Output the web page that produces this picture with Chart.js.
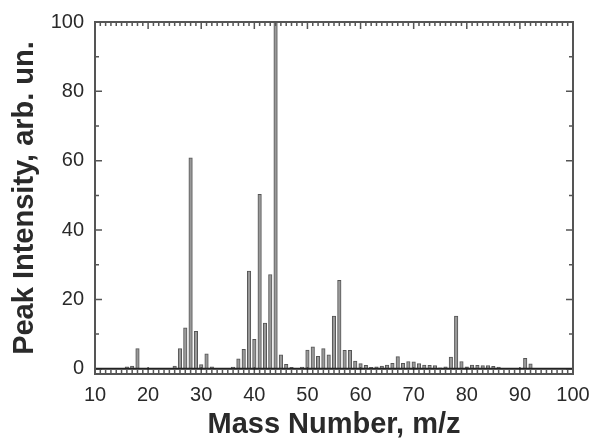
<!DOCTYPE html>
<html>
<head>
<meta charset="utf-8">
<script src="https://cdn.jsdelivr.net/npm/chart.js@4.4.1/dist/chart.umd.min.js"></script>
<style>
  html, body { margin: 0; padding: 0; background: #fff; }
  #spectrum { display: block; }
</style>
</head>
<body>
<canvas id="spectrum" width="590" height="439"></canvas>
<script>
// mass spectrum: m/z and relative peak height (base peak = 100)
const massNumbers = [
  16, 17, 18, 25, 26, 27, 28, 29, 30, 31, 32,
  36, 37, 38, 39, 40, 41, 42, 43, 44, 45, 46, 47,
  49, 50, 51, 52, 53, 54, 55, 56, 57, 58, 59, 60, 61, 62, 63, 64,
  65, 66, 67, 68, 69, 70, 71, 72, 73, 74, 75, 76, 77, 78, 79, 80,
  81, 82, 83, 84, 85, 86, 91, 92
];
const intensities = [
  0.6, 0.8, 5.8, 0.8, 5.8, 11.8, 60.8, 10.8, 1.2, 4.3, 0.6,
  0.5, 2.9, 5.6, 28.2, 8.5, 50.3, 13.2, 27.2, 100, 4.0, 1.3, 0.4,
  0.5, 5.4, 6.3, 3.6, 5.8, 4.0, 15.2, 25.5, 5.3, 5.3, 2.2, 1.5, 1.0, 0.4, 0.6, 0.8,
  1.1, 1.6, 3.5, 1.6, 2.1, 2.0, 1.5, 1.1, 1.0, 0.9, 0.3, 0.6, 3.4, 15.2, 2.1, 0.6,
  1.1, 1.0, 0.9, 0.9, 0.7, 0.5, 3.0, 1.4
];

const xTickValues = [10, 20, 30, 40, 50, 60, 70, 80, 90, 100];
const yTickValues = [0, 20, 40, 60, 80, 100];
const xMinorStep = 1;
const yMinorStep = 10;

const axisColor = '#555';
const labelColor = '#2a2a2a';
const fontFamily = '"Liberation Sans", Arial, sans-serif';

// box frame, inward ticks on all four sides and the zero baseline
const frameAndTicks = {
  id: 'frameAndTicks',
  afterDraw(chart) {
    const { ctx, chartArea: a, scales: { x, y } } = chart;
    ctx.save();
    ctx.strokeStyle = axisColor;
    ctx.lineWidth = 1.5;
    ctx.beginPath();
    for (let m = x.min; m <= x.max; m += xMinorStep) {
      const px = x.getPixelForValue(m);
      const len = xTickValues.includes(m) ? 7 : 4;
      ctx.moveTo(px, a.bottom); ctx.lineTo(px, a.bottom - len);
      ctx.moveTo(px, a.top); ctx.lineTo(px, a.top + len);
    }
    for (let v = 0; v <= 100; v += yMinorStep) {
      const py = y.getPixelForValue(v);
      const len = yTickValues.includes(v) ? 7 : 4;
      ctx.moveTo(a.left, py); ctx.lineTo(a.left + len, py);
      ctx.moveTo(a.right, py); ctx.lineTo(a.right - len, py);
    }
    ctx.stroke();

    const zero = y.getPixelForValue(0);
    ctx.strokeStyle = '#222';
    ctx.lineWidth = 2;
    ctx.beginPath();
    ctx.moveTo(a.left, zero); ctx.lineTo(a.right, zero);
    ctx.stroke();

    ctx.strokeStyle = axisColor;
    ctx.lineWidth = 2;
    ctx.strokeRect(a.left, a.top, a.right - a.left, a.bottom - a.top);
    ctx.restore();
  }
};

new Chart(document.getElementById('spectrum'), {
  type: 'bar',
  data: {
    datasets: [{
      data: massNumbers.map((m, i) => ({ x: m, y: intensities[i] })),
      backgroundColor: '#999',
      borderColor: '#555',
      borderWidth: 1,
      borderSkipped: 'start',
      barThickness: 3.5
    }]
  },
  options: {
    responsive: false,
    animation: false,
    layout: { padding: { top: 22, right: 17, left: 0, bottom: 0 } },
    plugins: { legend: { display: false }, tooltip: { enabled: false } },
    scales: {
      x: {
        type: 'linear',
        min: 10,
        max: 100,
        offset: false,
        afterBuildTicks: s => { s.ticks = xTickValues.map(v => ({ value: v })); },
        afterFit: s => { s.height = 65; s.paddingLeft = 0; s.paddingRight = 0; },
        grid: { display: false, drawTicks: false },
        border: { display: false },
        ticks: {
          padding: 9,
          maxRotation: 0,
          autoSkip: false,
          color: labelColor,
          font: { family: fontFamily, size: 20 }
        },
        title: {
          display: true,
          text: 'Mass Number, m/z',
          color: labelColor,
          padding: { top: 0, bottom: 0 },
          font: { family: fontFamily, size: 29, weight: 'bold', lineHeight: 1 }
        }
      },
      y: {
        min: -1.5,
        max: 100,
        afterBuildTicks: s => { s.ticks = yTickValues.map(v => ({ value: v })); },
        afterFit: s => { s.width = 95; s.paddingTop = 0; s.paddingBottom = 0; },
        grid: { display: false, drawTicks: false },
        border: { display: false },
        ticks: {
          padding: 11,
          color: labelColor,
          font: { family: fontFamily, size: 20 }
        },
        title: {
          display: true,
          text: 'Peak Intensity, arb. un.',
          color: labelColor,
          padding: { top: 10, bottom: 0 },
          font: { family: fontFamily, size: 29, weight: 'bold', lineHeight: 1 }
        }
      }
    }
  },
  plugins: [frameAndTicks]
});
</script>
</body>
</html>
